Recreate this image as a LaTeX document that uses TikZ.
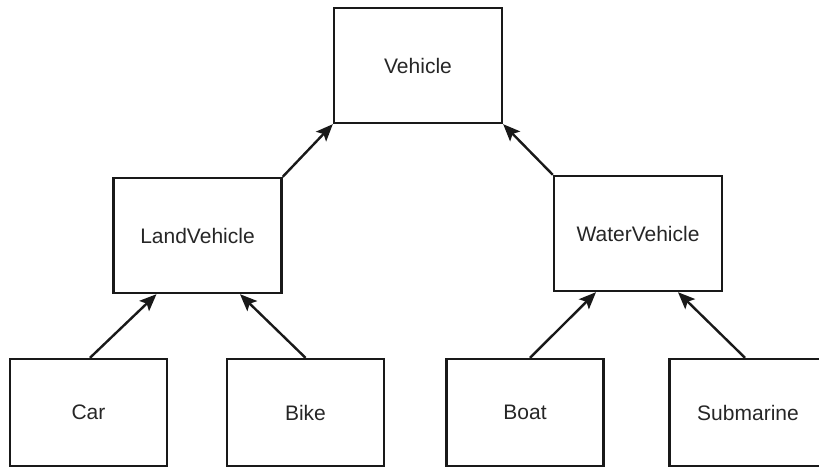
\documentclass[tikz,border=0pt]{standalone}
\usepackage{fontspec}
\setmainfont{Liberation Sans}
\usetikzlibrary{arrows.meta}
\begin{document}
\begin{tikzpicture}[x=1pt,y=-1pt,
  box/.style={draw=black!90, line width=2.4pt, rectangle, inner sep=0pt,
    font=\fontsize{21pt}{24pt}\selectfont, text=black!85},
  big/.style={box, minimum width=168pt, minimum height=115pt},
  small/.style={box, minimum width=157pt, minimum height=107pt},
  link/.style={draw=black!90, line width=2.4pt, -{Stealth[length=17pt,width=14pt,inset=3.5pt]}}]
\useasboundingbox (0,0) rectangle (819,468);
\clip (0,0) rectangle (819,468);
\node[big] (vehicle) at (418,65.5) {Vehicle};
\node[big] (land) at (197.5,235.5) {LandVehicle};
\node[big] (water) at (638,233.5) {WaterVehicle};
\node[small] (car) at (88.5,412.5) {Car};
\node[small] (bike) at (305.5,412.5) {Bike};
\node[small] (boat) at (525,412.5) {Boat};
\node[small] (sub) at (748,412.5) {Submarine};
\draw[link] ([xshift=1.5pt]car.north) -- ([xshift=-41pt]land.south);
\draw[link] (bike.north) -- ([xshift=42.5pt]land.south);
\draw[link] ([xshift=5pt]boat.north) -- ([xshift=-42pt]water.south);
\draw[link] ([xshift=-3pt]sub.north) -- ([xshift=40pt]water.south);
\draw[link] (land.north east) -- (vehicle.south west);
\draw[link] (water.north west) -- (vehicle.south east);
\end{tikzpicture}
\end{document}
